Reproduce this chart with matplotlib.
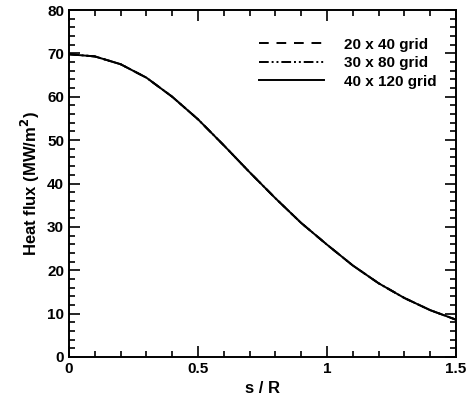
import matplotlib
matplotlib.use("Agg")
import matplotlib.pyplot as plt
from matplotlib.ticker import MultipleLocator

plt.rcParams['font.family'] = ['Liberation Sans', 'DejaVu Sans']
plt.rcParams['font.weight'] = 'bold'

s_over_R = [0.0, 0.1, 0.2, 0.3, 0.4, 0.5, 0.6, 0.7, 0.8, 0.9, 1.0, 1.1, 1.2, 1.3, 1.4, 1.5]
flux_20x40 = [69.8, 69.3, 67.5, 64.4, 60.0, 54.8, 48.8, 42.6, 36.6, 30.9, 25.9, 21.1, 17.0, 13.6, 10.8, 8.6]
flux_30x80 = [69.8, 69.3, 67.5, 64.4, 60.0, 54.8, 48.8, 42.6, 36.6, 30.9, 25.9, 21.1, 17.0, 13.6, 10.8, 8.6]
flux_40x120 = [69.8, 69.3, 67.5, 64.4, 60.0, 54.8, 48.8, 42.6, 36.6, 30.9, 25.9, 21.1, 17.0, 13.6, 10.8, 8.6]
labels = ['20 x 40 grid', '30 x 80 grid', '40 x 120 grid']

fig = plt.figure(figsize=(4.70, 4.03), dpi=100)
ax = fig.add_axes([69/470, 1 - 357/403, (456 - 69)/470, (357 - 10)/403])

ax.plot(s_over_R, flux_20x40, color='black', lw=1.4, ls=(0, (5, 4)), label=labels[0])
ax.plot(s_over_R, flux_30x80, color='black', lw=1.4, ls=(0, (5, 1.5, 1, 1.5, 1, 1.5)), label=labels[1])
ax.plot(s_over_R, flux_40x120, color='black', lw=1.4, ls='-', label=labels[2])

ax.set_xlim(0, 1.5)
ax.set_ylim(0, 80)
ax.xaxis.set_major_locator(MultipleLocator(0.5))
ax.xaxis.set_minor_locator(MultipleLocator(0.1))
ax.yaxis.set_major_locator(MultipleLocator(10))
ax.yaxis.set_minor_locator(MultipleLocator(2))
ax.set_xticks([0, 0.5, 1, 1.5])
ax.set_xticklabels(['0', '0.5', '1', '1.5'])
ax.tick_params(which='both', direction='in', top=True, right=True, labelsize=11, width=1.2)
ax.tick_params(which='major', length=8)
ax.tick_params(which='minor', length=4.5)
for sp in ax.spines.values():
    sp.set_linewidth(1.4)

ax.set_xlabel('s / R', fontsize=12, fontweight='bold')
ax.set_ylabel('Heat flux (MW/m$^\\mathbf{2}$)', fontsize=12, fontweight='bold')

ax.legend(loc='upper right', bbox_to_anchor=(0.985, 0.96), frameon=False, fontsize=11,
          handlelength=4.25, handletextpad=1.3, labelspacing=0.3)

fig.savefig('out.png', dpi=100)
